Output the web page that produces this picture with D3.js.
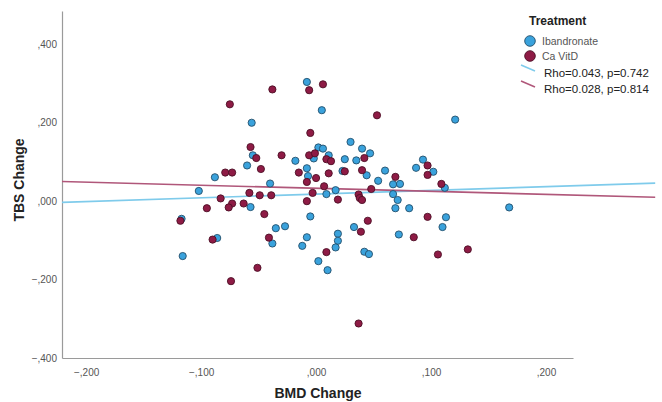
<!DOCTYPE html>
<html>
<head>
<meta charset="utf-8">
<script src="https://cdn.jsdelivr.net/npm/d3@7"></script>
<style>
  body { margin: 0; background: #fff; }
  svg { display: block; font-family: "Liberation Sans", Arial, sans-serif; }
  .tick text { fill: #555; font-size: 10px; }
  .axisTitle { font-size: 14px; font-weight: bold; fill: #222; }
</style>
</head>
<body>
<svg class="chart"></svg>
<script>
// BMD change (x) / TBS change (y)
var ibanX = [-0.008, 0.005, -0.056, 0.002, 0.006, -0.055, -0.002, 0.011, -0.018, -0.060,
             -0.008, -0.088, -0.007, 0.023, 0.030, 0.040, 0.047, 0.025, 0.035, 0.044,
             0.060, 0.093, 0.087, 0.102, 0.121, 0.054, 0.067, 0.073, -0.040, 0.017,
             -0.102, 0.009, -0.057, -0.005, -0.117, -0.035, -0.027, -0.008, -0.012, 0.019,
             0.019, 0.017, -0.086, -0.038, 0.002, 0.010, -0.116, 0.067, 0.071, 0.069,
             0.081, 0.112, 0.033, 0.072, 0.113, 0.110, 0.042, 0.046, 0.168];
var ibanY = [0.304, 0.232, 0.200, 0.137, 0.134, 0.117, 0.109, 0.117, 0.103, 0.091,
             0.084, 0.061, 0.064, 0.077, 0.151, 0.134, 0.122, 0.107, 0.104, 0.066,
             0.078, 0.106, 0.085, 0.075, 0.208, 0.052, 0.043, 0.044, 0.045, 0.028,
             0.026, 0.018, -0.015, -0.039, -0.045, -0.069, -0.064, -0.092, -0.114, -0.083,
             -0.101, -0.118, -0.094, -0.108, -0.153, -0.176, -0.140, 0.018, 0.003, -0.018,
             -0.018, 0.034, -0.066, -0.085, -0.041, -0.066, -0.129, -0.135, -0.016];

var caX = [0.006, -0.006, -0.038, -0.075, -0.005, -0.057, -0.052, -0.030, -0.006, -0.001,
           0.009, 0.013, -0.048, -0.079, -0.073, -0.015, 0.000, 0.011, 0.025, 0.053,
           0.042, 0.040, 0.069, 0.097, 0.097, -0.008, 0.007, -0.058, -0.049, -0.039,
           -0.003, -0.083, -0.073, -0.076, -0.063, -0.008, 0.019, -0.095, -0.045, -0.118,
           -0.090, -0.041, 0.009, -0.051, -0.074, 0.048, 0.037, 0.038, 0.040, 0.109,
           0.045, 0.039, 0.085, 0.097, 0.106, 0.132, 0.037];
var caY = [0.298, 0.283, 0.285, 0.247, 0.174, 0.138, 0.110, 0.117, 0.117, 0.122,
           0.107, 0.102, 0.082, 0.073, 0.073, 0.073, 0.059, 0.071, 0.076, 0.219,
           0.110, 0.079, 0.062, 0.091, 0.067, 0.049, 0.038, 0.021, 0.015, 0.015,
           0.021, 0.007, -0.006, -0.016, -0.006, 0.000, 0.004, -0.018, -0.033, -0.050,
           -0.098, -0.093, -0.130, -0.170, -0.204, 0.031, 0.017, 0.008, 0.003, 0.044,
           -0.050, -0.078, -0.092, -0.040, -0.136, -0.123, -0.312];

// fit line end points
var fitX = [-0.221, 0.295];
var ibanFit = [-0.003, 0.046];
var caFit = [0.050, 0.010];

var xTicks = [-0.2, -0.1, 0, 0.1, 0.2];
var yTicks = [-0.4, -0.2, 0, 0.2, 0.4];

var groups = ["Ibandronate", "Ca  VitD"];
var rhoLabels = ["Rho=0.043, p=0.742", "Rho=0.028, p=0.814"];

var fillColors = ["#3aa2dc", "#8e1b45"];
var strokeColors = ["#244f6b", "#4d1026"];
var lineColors = ["#7fcbeb", "#b0577a"];

var width = 662, height = 402;
var svg = d3.select(".chart").attr("width", width).attr("height", height);

var x = d3.scaleLinear().domain([-0.221, 0.2235]).range([62, 573]);
var y = d3.scaleLinear().domain([-0.4, 0.485]).range([358, 11]);

function fmt(d) {
  return d3.format(".3f")(d).replace("0.", ",");
}

// axes
var xAxis = svg.append("g")
  .attr("transform", "translate(0," + y(-0.4) + ")")
  .call(d3.axisBottom(x).tickValues(xTicks).tickSize(0).tickSizeOuter(0).tickPadding(11).tickFormat(fmt));
var yAxis = svg.append("g")
  .attr("transform", "translate(" + x(-0.221) + ",0)")
  .call(d3.axisLeft(y).tickValues(yTicks).tickSize(0).tickSizeOuter(0).tickPadding(5).tickFormat(fmt));
svg.selectAll(".domain").attr("stroke", "#9a9a9a").attr("stroke-width", 1.2);

svg.append("text")
  .attr("class", "axisTitle")
  .attr("x", 318).attr("y", 398)
  .attr("text-anchor", "middle")
  .text("BMD Change");

svg.append("text")
  .attr("class", "axisTitle")
  .attr("transform", "translate(24,180) rotate(-90)")
  .attr("text-anchor", "middle")
  .text("TBS Change");

// fit lines
var fits = [ibanFit, caFit];
fits.forEach(function(f, i) {
  svg.append("line")
    .attr("x1", x(fitX[0])).attr("y1", y(f[0]))
    .attr("x2", x(fitX[1])).attr("y2", y(f[1]))
    .attr("stroke", lineColors[i])
    .attr("stroke-width", 1.6);
});

// points
var sets = [[ibanX, ibanY], [caX, caY]];
sets.forEach(function(s, i) {
  svg.append("g").selectAll("circle")
    .data(s[0])
    .enter().append("circle")
    .attr("cx", function(d) { return x(d); })
    .attr("cy", function(d, j) { return y(s[1][j]); })
    .attr("r", 3.6)
    .attr("fill", fillColors[i])
    .attr("stroke", strokeColors[i])
    .attr("stroke-width", 0.9);
});

// legend
var legend = svg.append("g").attr("transform", "translate(528,0)");
legend.append("text")
  .attr("x", 1).attr("y", 25)
  .attr("font-size", "12px").attr("font-weight", "bold").attr("fill", "#222")
  .text("Treatment");

groups.forEach(function(g, i) {
  var cy = 41 + i * 15;
  legend.append("circle")
    .attr("cx", 2).attr("cy", cy).attr("r", 5.3)
    .attr("fill", fillColors[i]).attr("stroke", strokeColors[i]).attr("stroke-width", 0.9);
  legend.append("text")
    .attr("x", 14).attr("y", cy + 4)
    .attr("font-size", "10.5px").attr("fill", "#555")
    .text(g);
});

rhoLabels.forEach(function(t, i) {
  var ly = 68 + i * 16;
  legend.append("line")
    .attr("x1", -7).attr("y1", ly - 3)
    .attr("x2", 7).attr("y2", ly + 3)
    .attr("stroke", lineColors[i]).attr("stroke-width", 1.5);
  legend.append("text")
    .attr("x", 16).attr("y", ly + 9)
    .attr("font-size", "11.5px").attr("fill", "#222")
    .text(t);
});
</script>
</body>
</html>
